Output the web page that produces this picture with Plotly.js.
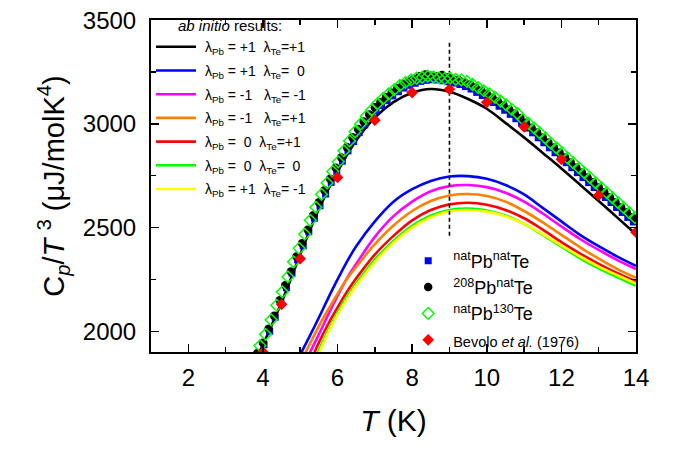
<!DOCTYPE html>
<html><head><meta charset="utf-8">
<script src="https://cdn.plot.ly/plotly-3.0.1.min.js"></script>
<style>html,body{margin:0;padding:0;background:#fff}</style>
</head><body><div id="chart" style="width:680px;height:452px"></div>
<script>
// ab initio curves
const lineNames = [
  "\u00a0λ<sub>Pb</sub> = +1\u00a0\u00a0λ<sub>Te</sub>=+1",
  "\u00a0λ<sub>Pb</sub> = +1\u00a0\u00a0λ<sub>Te</sub>=\u00a0\u00a00",
  "\u00a0λ<sub>Pb</sub> = -1\u00a0\u00a0\u00a0λ<sub>Te</sub>= -1",
  "\u00a0λ<sub>Pb</sub> = -1\u00a0\u00a0\u00a0λ<sub>Te</sub>=+1",
  "\u00a0λ<sub>Pb</sub> =\u00a0\u00a00\u00a0\u00a0λ<sub>Te</sub>=+1",
  "\u00a0λ<sub>Pb</sub> =\u00a0\u00a00\u00a0\u00a0λ<sub>Te</sub>=\u00a0\u00a00",
  "\u00a0λ<sub>Pb</sub> = +1\u00a0\u00a0λ<sub>Te</sub>= -1"
];
const lineColors = ["#000000","#0000ff","#ff00ff","#ff8000","#ff0000","#00ff00","#ffff00"];

const blackT = [3.8,4.0,4.5,5.0,5.5,6.0,6.5,7.0,7.5,8.0,8.5,9.0,9.5,10.0,10.5,11.0,11.5,12.0,12.5,13.0,13.5,14.0];
const blackV = [1860,1935,2140,2370,2590,2770,2920,3030,3105,3150,3168,3155,3120,3073,3005,2935,2860,2785,2707,2628,2548,2468];

const blueT = [4.98,5.25,5.5,5.75,6.0,6.25,6.5,7.0,7.5,8.0,8.5,9.0,9.5,10.0,10.5,11.0,11.5,12.0,12.5,13.0,13.5,14.0];
const blueV = [1880,1975,2066,2160,2250,2335,2410,2530,2625,2685,2725,2746,2748,2735,2705,2660,2595,2530,2465,2410,2360,2315];

const magentaT = [5.21,5.5,5.75,6.0,6.25,6.5,7.0,7.5,8.0,8.5,9.0,9.5,10.0,10.5,11.0,11.5,12.0,12.5,13.0,13.5,14.0];
const magentaV = [1880,1985,2080,2170,2255,2325,2455,2555,2625,2675,2700,2705,2695,2668,2625,2568,2505,2445,2392,2343,2300];

const orangeT = [5.1,5.5,5.75,6.0,6.25,6.5,7.0,7.5,8.0,8.5,9.0,9.5,10.0,10.5,11.0,11.5,12.0,12.5,13.0,13.5,14.0];
const orangeV = [1882,2025,2105,2180,2252,2310,2420,2510,2580,2628,2655,2662,2652,2625,2580,2525,2465,2405,2350,2300,2258];

const redT = [5.34,5.5,5.75,6.0,6.25,6.5,7.0,7.5,8.0,8.5,9.0,9.5,10.0,10.5,11.0,11.5,12.0,12.5,13.0,13.5,14.0];
const redV = [1880,1945,2035,2115,2190,2255,2370,2460,2535,2585,2612,2620,2610,2585,2545,2490,2430,2375,2325,2280,2240];

const greenT = [5.43,5.75,6.0,6.25,6.5,7.0,7.5,8.0,8.5,9.0,9.5,10.0,10.5,11.0,11.5,12.0,12.5,13.0,13.5,14.0];
const greenV = [1880,2005,2090,2165,2230,2345,2435,2508,2558,2585,2592,2582,2558,2518,2465,2408,2352,2303,2260,2220];

const yellowT = [5.47,5.75,6.0,6.25,6.5,7.0,7.5,8.0,8.5,9.0,9.5,10.0,10.5,11.0,11.5,12.0,12.5,13.0,13.5,14.0];
const yellowV = [1880,1995,2080,2155,2220,2335,2427,2500,2550,2578,2585,2577,2555,2518,2468,2413,2360,2312,2270,2230];

// measured data
const expNames = [
  "<sup>nat</sup>Pb<sup>nat</sup>Te",
  "<sup>208</sup>Pb<sup>nat</sup>Te",
  "<sup>nat</sup>Pb<sup>130</sup>Te",
  "<span style='font-size:14.5px'>Bevolo <i>et al.</i> (1976)</span>"
];
const sqT = [3.88,4.03,4.18,4.33,4.48,4.63,4.78,4.93,5.08,5.23,5.38,5.53,5.68,5.83,5.98,6.13,6.28,6.43,6.58,6.73,6.88,7.03,7.18,7.33,7.48,7.63,7.78,7.93,8.08,8.23,8.38,8.53,8.68,8.83,8.98,9.13,9.28,9.43,9.58,9.73,9.88,10.03,10.18,10.33,10.48,10.63,10.78,10.93,11.08,11.23,11.38,11.53,11.68,11.83,11.98,12.13,12.28,12.43,12.58,12.73,12.88,13.03,13.18,13.33,13.48,13.63,13.78,13.93];
const sqV = [1885,1935,2000,2068,2138,2210,2280,2345,2412,2480,2545,2605,2662,2718,2770,2820,2870,2915,2958,2995,3030,3062,3088,3112,3135,3155,3173,3186,3196,3205,3210,3213,3212,3208,3203,3197,3190,3180,3168,3152,3137,3120,3103,3085,3066,3046,3025,3003,2980,2957,2933,2909,2885,2861,2837,2813,2789,2765,2741,2717,2693,2669,2645,2621,2597,2573,2549,2527];

const ciT = [3.85,4.0,4.15,4.3,4.45,4.6,4.75,4.9,5.05,5.2,5.35,5.5,5.65,5.8,5.95,6.1,6.25,6.4,6.55,6.7,6.85,7.0,7.15,7.3,7.45,7.6,7.75,7.9,8.05,8.2,8.35,8.5,8.65,8.8,8.95,9.1,9.25,9.4,9.55,9.7,9.85,10.0,10.15,10.3,10.45,10.6,10.75,10.9,11.05,11.2,11.35,11.5,11.65,11.8,11.95,12.1,12.25,12.4,12.55,12.7,12.85,13.0,13.15,13.3,13.45,13.6,13.75,13.9,14.0];
const ciV = [1895,1945,2012,2075,2150,2222,2288,2360,2425,2490,2560,2622,2680,2735,2788,2838,2888,2935,2975,3012,3045,3080,3104,3128,3150,3172,3192,3205,3218,3230,3238,3232,3228,3236,3225,3215,3210,3200,3190,3176,3160,3145,3126,3108,3090,3070,3050,3028,3006,2982,2958,2934,2910,2886,2862,2838,2814,2790,2766,2742,2718,2694,2670,2646,2622,2598,2574,2550,2534];

const diT = [3.92,4.07,4.22,4.37,4.52,4.67,4.82,4.97,5.12,5.27,5.42,5.57,5.72,5.87,6.02,6.17,6.32,6.47,6.62,6.77,6.92,7.07,7.22,7.37,7.52,7.67,7.82,7.97,8.12,8.27,8.42,8.57,8.72,8.87,9.02,9.17,9.32,9.47,9.62,9.77,9.92,10.07,10.22,10.37,10.52,10.67,10.82,10.97,11.12,11.27,11.42,11.57,11.72,11.87,12.02,12.17,12.32,12.47,12.62,12.77,12.92,13.07,13.22,13.37,13.52,13.67,13.82,13.97];
const diV = [1930,1985,2055,2125,2190,2262,2335,2400,2468,2535,2598,2660,2715,2770,2817,2870,2918,2962,3000,3037,3068,3098,3122,3145,3165,3185,3200,3212,3220,3225,3230,3226,3222,3218,3220,3215,3212,3205,3190,3175,3160,3145,3128,3110,3092,3070,3050,3022,3002,2980,2956,2932,2906,2884,2860,2835,2812,2788,2764,2740,2716,2692,2668,2644,2620,2596,2572,2548];

const bevT = [4.0,4.5,5.0,6.0,7.0,8.0,9.0,10.0,11.0,12.0,13.0,14.0];
const bevV = [1900,2130,2350,2742,3018,3151,3167,3104,2986,2829,2656,2478];

// reference marker line
const dashT = [9, 9];
const dashV = [2460, 3400];

const FONT = "Liberation Sans, Arial, Helvetica, sans-serif";

const lineData = [[blackT,blackV],[blueT,blueV],[magentaT,magentaV],[orangeT,orangeV],[redT,redV],[greenT,greenV],[yellowT,yellowV]];
const traces = [];
lineData.forEach((d,i)=>{
  traces.push({x:d[0], y:d[1], type:"scatter", mode:"lines", name:lineNames[i],
    line:{color:lineColors[i], width:2.6, shape:"spline", smoothing:1},
    legend:"legend", legendgroup:"g"+i});
});
traces.push({x:dashT, y:dashV, type:"scatter", mode:"lines", showlegend:false,
  line:{color:"#000", width:1.6, dash:"4px,3px"}, hoverinfo:"skip"});
traces.push({x:sqT, y:sqV, type:"scatter", mode:"markers", name:expNames[0], legend:"legend2", legendgroup:"e0",
  marker:{symbol:"square", size:7, color:"#0000ff"}});
traces.push({x:ciT, y:ciV, type:"scatter", mode:"markers", name:expNames[1], legend:"legend2", legendgroup:"e1",
  marker:{symbol:"circle", size:8.5, color:"#000000"}});
traces.push({x:diT, y:diV, type:"scatter", mode:"markers", name:expNames[2], legend:"legend2", legendgroup:"e2",
  marker:{symbol:"diamond-open", size:9, color:"#00ff00", line:{width:1.5}}});
traces.push({x:bevT, y:bevV, type:"scatter", mode:"markers", name:expNames[3], legend:"legend2", legendgroup:"e3",
  marker:{symbol:"diamond", size:9, color:"#ff0000"}});

const axisCommon = {
  showgrid:false, zeroline:false, showline:true, linecolor:"#000", linewidth:2,
  mirror:"allticks", ticks:"inside", ticklen:8, tickwidth:1.5, tickcolor:"#000",
  tickfont:{family:FONT, size:24, color:"#000"}
};

const layout = {
  width:680, height:452,
  paper_bgcolor:"#fff", plot_bgcolor:"#fff",
  font:{family:FONT, color:"#000"},
  margin:{l:151, r:44, t:13, b:100},
  showlegend:true,
  xaxis:Object.assign({}, axisCommon, {
    range:[1,14], tick0:0, dtick:2, ticklabelstandoff:3,
    minor:{dtick:1, tick0:0, ticks:"inside", ticklen:5, tickwidth:1.5, tickcolor:"#000"},
    title:{text:"<i>T</i> (K)", font:{family:FONT, size:30}, standoff:20}
  }),
  yaxis:Object.assign({}, axisCommon, {
    range:[1900,3501], tick0:0, dtick:500, ticklabelstandoff:8,
    minor:{dtick:250, tick0:0, ticks:"inside", ticklen:5, tickwidth:1.5, tickcolor:"#000"},
    title:{text:"C<sub><i>p</i></sub>/<i>T</i> <sup>3</sup> (μJ/molK<sup>4</sup>)", font:{family:FONT, size:29}, standoff:10}
  }),
  legend:{x:0.0, y:1.025, xanchor:"left", yanchor:"top", bgcolor:"rgba(0,0,0,0)",
    font:{family:FONT, size:14, color:"#000"}, tracegroupgap:2.5, itemwidth:40,
    title:{text:"\u00a0\u00a0\u00a0\u00a0\u00a0\u00a0<i>ab initio</i> results:", font:{family:FONT, size:15}}},
  legend2:{x:0.52, y:0.33, xanchor:"left", yanchor:"top", bgcolor:"rgba(0,0,0,0)",
    font:{family:FONT, size:18, color:"#000"}, tracegroupgap:0, itemwidth:40}
};

Plotly.newPlot("chart", traces, layout, {staticPlot:true, displayModeBar:false});
</script></body></html>
